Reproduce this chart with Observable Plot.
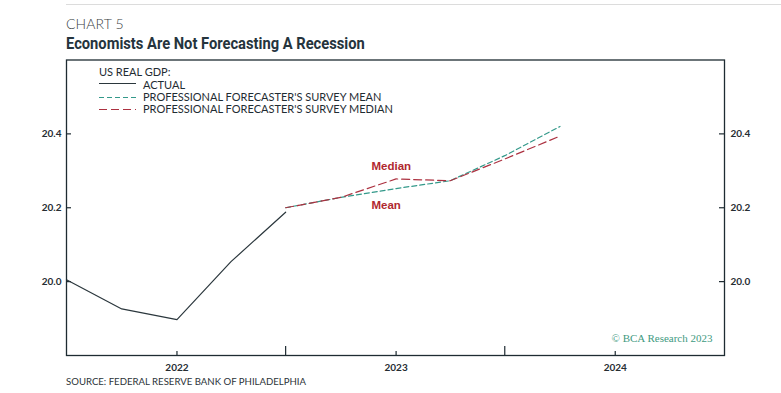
<!DOCTYPE html>
<html>
<head>
<meta charset="utf-8">
<script src="https://cdn.jsdelivr.net/npm/d3@7"></script>
<script src="https://cdn.jsdelivr.net/npm/@observablehq/plot@0.6"></script>
<style>
  html, body { margin: 0; padding: 0; background: #fff; }
  #wrap { position: relative; width: 781px; height: 393px; overflow: hidden; background: #fff; }
  #topline { position: absolute; left: 66px; right: 0; top: 4px; height: 1px; background: #dcdcdc; }
  #kicker { position: absolute; left: 66px; top: 15px; font: 300 14px "Lato", "Open Sans", sans-serif; color: #3a3f44; letter-spacing: 0.1px; }
  #title { position: absolute; left: 66px; top: 33px; font: bold 17px "Liberation Sans Narrow", "Roboto", sans-serif; color: #25343d; transform: scaleX(0.865); transform-origin: 0 0; white-space: nowrap; }
  #legend { position: absolute; left: 99px; top: 66px; font: 11px "Lato", "Open Sans", sans-serif; color: #1f2c33; line-height: 12px; }
  #legend .row { position: relative; height: 12px; }
  #legend svg { position: absolute; left: 0; top: 0; }
  #legend .lab { position: absolute; left: 44px; top: 0; white-space: nowrap; }
  #source { position: absolute; left: 66px; top: 376px; font: 9.6px "Lato", "Open Sans", sans-serif; color: #2c3338; white-space: nowrap; }
  #chart { position: absolute; left: 0; top: 0; }
</style>
</head>
<body>
<div id="wrap">
  <div id="chart"></div>
  <div id="topline"></div>
  <div id="kicker">CHART 5</div>
  <div id="title">Economists Are Not Forecasting A Recession</div>
  <div id="legend"></div>
  <div id="source">SOURCE: FEDERAL RESERVE BANK OF PHILADELPHIA</div>
</div>
<script>
// ---- data ----
const actualDates = ["2021-07-01", "2021-10-01", "2022-01-01", "2022-04-01", "2022-07-01"];
const actualValues = [20.005, 19.926, 19.897, 20.054, 20.188];

const forecastDates = ["2022-07-01", "2022-10-01", "2023-01-01", "2023-04-01", "2023-07-01", "2023-10-01"];
const meanValues = [20.200, 20.228, 20.252, 20.273, 20.341, 20.420];
const medianValues = [20.200, 20.228, 20.278, 20.273, 20.332, 20.394];

const yTickValues = [20.0, 20.2, 20.4];
const yearTickDates = ["2022-01-01", "2023-01-01", "2024-01-01"];
const halfYearTickDates = ["2022-07-01", "2023-07-01"];

const legendTitle = "US REAL GDP:";
const legendLabels = ["ACTUAL", "PROFESSIONAL FORECASTER'S SURVEY MEAN", "PROFESSIONAL FORECASTER'S SURVEY MEDIAN"];
const annotationTexts = ["Median", "Mean"];
const annotationDates = ["2022-11-21", "2022-11-21"];
const annotationValues = [20.313, 20.207];
const copyright = "© BCA Research 2023";

// ---- styling ----
const colActual = "#2b373d";
const colMean = "#33998a";
const colMedian = "#ac3140";
const colFrame = "#1e2b32";
const dashMean = "5,3";
const dashMedian = "8,4";

const parse = d3.utcParse("%Y-%m-%d");
const actual = actualDates.map((d, i) => ({date: parse(d), value: actualValues[i]}));
const mean = forecastDates.map((d, i) => ({date: parse(d), value: meanValues[i]}));
const median = forecastDates.map((d, i) => ({date: parse(d), value: medianValues[i]}));
const annotations = annotationTexts.map((t, i) => ({text: t, date: parse(annotationDates[i]), value: annotationValues[i]}));
const yearTicks = yearTickDates.map(parse);
const halfTicks = halfYearTickDates.map(parse);

const W = 781, H = 393, mL = 66, mR = 57, mT = 59.5, mB = 38;
const innerW = W - mL - mR, innerH = H - mT - mB;
const tickFont = {fontFamily: "Lato, 'Open Sans', sans-serif", fontWeight: 700, fontSize: 10, fill: "#262d32"};

const chart = Plot.plot({
  width: W, height: H,
  marginLeft: mL, marginRight: mR, marginTop: mT, marginBottom: mB,
  style: {background: "transparent", fontFamily: "Lato, 'Open Sans', sans-serif"},
  x: {type: "utc", domain: [parse("2021-07-01"), parse("2024-07-01")]},
  y: {domain: [19.8, 20.6]},
  marks: [
    Plot.tickY(yTickValues, {y: d => d, insetRight: innerW - 5, stroke: colFrame, strokeWidth: 1.2}),
    Plot.tickY(yTickValues, {y: d => d, insetLeft: innerW - 5, stroke: colFrame, strokeWidth: 1.2}),
    Plot.tickX(yearTicks, {x: d => d, insetTop: innerH - 4, stroke: colFrame, strokeWidth: 1.2}),
    Plot.tickX(halfTicks, {x: d => d, insetTop: innerH - 9, stroke: colFrame, strokeWidth: 1.2}),
    Plot.axisY(yTickValues, {anchor: "left", tickSize: 0, tickPadding: 5, label: null, tickFormat: d3.format(".1f"), ...tickFont}),
    Plot.axisY(yTickValues, {anchor: "right", tickSize: 0, tickPadding: 6, label: null, tickFormat: d3.format(".1f"), ...tickFont}),
    Plot.axisX(yearTicks, {anchor: "bottom", tickSize: 0, tickPadding: 8, label: null, tickFormat: d3.utcFormat("%Y"), ...tickFont}),
    Plot.lineY(actual, {x: "date", y: "value", stroke: colActual, strokeWidth: 1.2}),
    Plot.lineY(mean, {x: "date", y: "value", stroke: colMean, strokeWidth: 1.2, strokeDasharray: dashMean}),
    Plot.lineY(median, {x: "date", y: "value", stroke: colMedian, strokeWidth: 1.2, strokeDasharray: dashMedian}),
    Plot.text(annotations, {x: "date", y: "value", text: "text", textAnchor: "start", fill: "#b0282f",
      fontWeight: "bold", fontSize: 11.5, fontFamily: "'Liberation Sans', Arial, sans-serif"}),
    Plot.text([copyright], {frameAnchor: "bottom-right", dx: -12, dy: -14, fill: "#3f9a7f",
      fontSize: 11, fontFamily: "'Liberation Serif', 'DejaVu Serif', serif"}),
    Plot.frame({stroke: colFrame, strokeWidth: 1.3})
  ]
});
document.getElementById("chart").appendChild(chart);

// ---- legend ----
const legend = document.getElementById("legend");
const titleRow = document.createElement("div");
titleRow.textContent = legendTitle;
titleRow.style.height = "13px";
legend.appendChild(titleRow);
const styles = [
  {stroke: colActual, dash: null},
  {stroke: colMean, dash: dashMean},
  {stroke: colMedian, dash: dashMedian}
];
legendLabels.forEach((lab, i) => {
  const row = document.createElement("div");
  row.className = "row";
  const s = styles[i];
  row.innerHTML = `<svg width="38" height="12"><line x1="0" x2="37" y1="${i === 0 ? 4.5 : 6.5}" y2="${i === 0 ? 4.5 : 6.5}" stroke="${s.stroke}" stroke-width="1.2" ${s.dash ? `stroke-dasharray="${s.dash}"` : ""}/></svg><span class="lab">${lab}</span>`;
  legend.appendChild(row);
});
</script>
</body>
</html>
